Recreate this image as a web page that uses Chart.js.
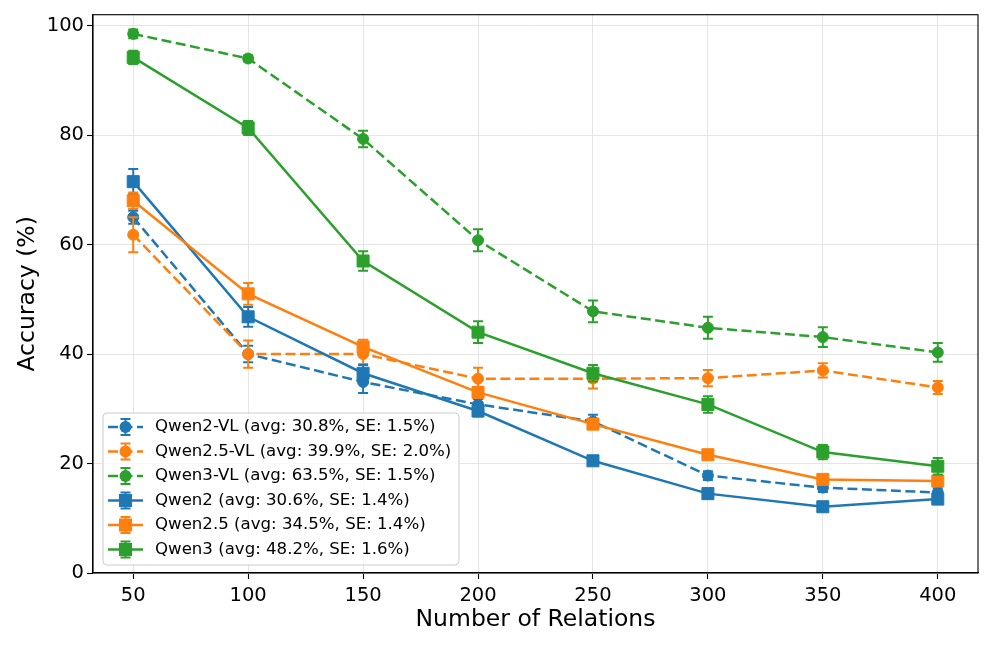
<!DOCTYPE html>
<html><head><meta charset="utf-8">
<script src="https://cdn.jsdelivr.net/npm/chart.js@4.4.0/dist/chart.umd.min.js"></script>
<style>html,body{margin:0;padding:0;background:#fff}#wrap{width:996px;height:648px}</style>
</head><body><div id="wrap"><canvas id="c" width="996" height="648"></canvas></div>
<script>
// ---- data ----
const relations = [50, 100, 150, 200, 250, 300, 350, 400];
const qwen2vl     = [65.0, 40.0, 34.9, 30.8, 27.7, 17.8, 15.6, 14.7];
const qwen2vlErr  = [1.2, 1.5, 2.0, 1.0, 1.2, 0.8, 0.8, 0.8];
const qwen25vl    = [61.8, 40.0, 40.0, 35.5, 35.5, 35.6, 37.0, 33.9];
const qwen25vlErr = [3.2, 2.5, 1.8, 2.0, 1.8, 1.5, 1.3, 1.2];
const qwen3vl     = [98.5, 94.0, 79.3, 60.8, 47.8, 44.8, 43.1, 40.3];
const qwen3vlErr  = [0.8, 0.6, 1.5, 2.0, 2.0, 2.0, 1.8, 1.7];
const qwen2       = [71.5, 46.8, 36.5, 29.6, 20.5, 14.5, 12.1, 13.5];
const qwen2Err    = [2.3, 1.8, 1.5, 1.0, 0.7, 0.6, 0.6, 0.8];
const qwen25      = [68.0, 51.0, 41.3, 33.0, 27.2, 21.6, 17.1, 16.8];
const qwen25Err   = [1.5, 2.0, 1.3, 1.0, 0.8, 0.7, 0.8, 0.8];
const qwen3       = [94.2, 81.3, 57.0, 44.0, 36.5, 30.8, 22.1, 19.5];
const qwen3Err    = [1.2, 1.3, 1.8, 2.0, 1.5, 1.5, 1.3, 1.5];
const seriesLabels = [
  'Qwen2-VL (avg: 30.8%, SE: 1.5%)',
  'Qwen2.5-VL (avg: 39.9%, SE: 2.0%)',
  'Qwen3-VL (avg: 63.5%, SE: 1.5%)',
  'Qwen2 (avg: 30.6%, SE: 1.4%)',
  'Qwen2.5 (avg: 34.5%, SE: 1.4%)',
  'Qwen3 (avg: 48.2%, SE: 1.6%)'
];
const xTicks = [50, 100, 150, 200, 250, 300, 350, 400];
const yTicks = [0, 20, 40, 60, 80, 100];

// ---- styles ----
const BLUE = '#1f77b4', ORANGE = '#ff7f0e', GREEN = '#2ca02c';
const seriesValues = [qwen2vl, qwen25vl, qwen3vl, qwen2, qwen25, qwen3];
const seriesErrors = [qwen2vlErr, qwen25vlErr, qwen3vlErr, qwen2Err, qwen25Err, qwen3Err];
const seriesColors = [BLUE, ORANGE, GREEN, BLUE, ORANGE, GREEN];
const seriesDashed = [true, true, true, false, false, false];
const DASH = [10, 4.5];
const FONT = 'DejaVu Sans';

const datasets = seriesValues.map((vals, i) => ({
  label: seriesLabels[i],
  data: relations.map((x, j) => ({x: x, y: vals[j]})),
  errors: seriesErrors[i],
  borderColor: seriesColors[i],
  backgroundColor: seriesColors[i],
  borderWidth: 2.5,
  borderDash: seriesDashed[i] ? DASH : [],
  pointStyle: seriesDashed[i] ? 'circle' : 'rect',
  pointRadius: seriesDashed[i] ? 5.5 : 8.5,
  pointBorderWidth: 1,
  pointBorderColor: seriesColors[i],
  pointBackgroundColor: seriesColors[i],
  pointHoverRadius: seriesDashed[i] ? 5.5 : 8.5,
  tension: 0,
  fill: false,
  order: 5 - i
}));

const errorBarPlugin = {
  id: 'errbars',
  beforeDatasetDraw(chart, args) {
    const ds = chart.data.datasets[args.index];
    if (!ds.errors) return;
    const xs = chart.scales.x, ys = chart.scales.y, ctx = chart.ctx;
    ctx.save();
    ctx.strokeStyle = ds.borderColor;
    ctx.lineWidth = 2;
    ctx.setLineDash([]);
    ds.data.forEach((p, i) => {
      const x = xs.getPixelForValue(p.x);
      const y1 = ys.getPixelForValue(p.y - ds.errors[i]);
      const y2 = ys.getPixelForValue(p.y + ds.errors[i]);
      ctx.beginPath();
      ctx.moveTo(x, y1); ctx.lineTo(x, y2);
      ctx.moveTo(x - 5, y1); ctx.lineTo(x + 5, y1);
      ctx.moveTo(x - 5, y2); ctx.lineTo(x + 5, y2);
      ctx.stroke();
    });
    ctx.restore();
  }
};

const framePlugin = {
  id: 'frame',
  afterDatasetsDraw(chart) {
    const a = chart.chartArea, ctx = chart.ctx;
    ctx.save();
    ctx.strokeStyle = '#000'; ctx.lineWidth = 1.1; ctx.setLineDash([]);
    ctx.strokeRect(a.left, a.top, a.right - a.left, a.bottom - a.top);
    ctx.restore();
  }
};

function roundRect(ctx, x, y, w, h, r) {
  ctx.beginPath();
  ctx.moveTo(x + r, y);
  ctx.lineTo(x + w - r, y); ctx.quadraticCurveTo(x + w, y, x + w, y + r);
  ctx.lineTo(x + w, y + h - r); ctx.quadraticCurveTo(x + w, y + h, x + w - r, y + h);
  ctx.lineTo(x + r, y + h); ctx.quadraticCurveTo(x, y + h, x, y + h - r);
  ctx.lineTo(x, y + r); ctx.quadraticCurveTo(x, y, x + r, y);
  ctx.closePath();
}

const legendPlugin = {
  id: 'mplLegend',
  afterDraw(chart) {
    const ctx = chart.ctx, a = chart.chartArea;
    const bx = a.left + 10, bw = 356, rowH = 24.5;
    const n = chart.data.datasets.length;
    const bh = n * rowH + 5;
    const by = a.bottom - 8 - bh;
    ctx.save();
    roundRect(ctx, bx, by, bw, bh, 4);
    ctx.fillStyle = 'rgba(255,255,255,0.8)'; ctx.fill();
    ctx.strokeStyle = '#cccccc'; ctx.lineWidth = 1; ctx.stroke();
    chart.data.datasets.forEach((ds, i) => {
      const cy = by + 14 + i * rowH;
      const x0 = bx + 5, x1 = bx + 40, xm = (x0 + x1) / 2;
      ctx.strokeStyle = ds.borderColor;
      ctx.lineWidth = 2.5;
      ctx.setLineDash(ds.borderDash);
      ctx.beginPath(); ctx.moveTo(x0, cy); ctx.lineTo(x1, cy); ctx.stroke();
      ctx.setLineDash([]);
      ctx.lineWidth = 2;
      ctx.beginPath();
      ctx.moveTo(xm, cy - 8); ctx.lineTo(xm, cy + 8);
      ctx.moveTo(xm - 5, cy - 8); ctx.lineTo(xm + 5, cy - 8);
      ctx.moveTo(xm - 5, cy + 8); ctx.lineTo(xm + 5, cy + 8);
      ctx.stroke();
      ctx.fillStyle = ds.borderColor;
      if (ds.pointStyle === 'circle') {
        ctx.beginPath(); ctx.arc(xm, cy, 6, 0, Math.PI * 2); ctx.fill();
      } else {
        ctx.fillRect(xm - 6.5, cy - 6.5, 13, 13);
      }
      ctx.fillStyle = '#000';
      ctx.font = '16.6px "' + FONT + '"';
      ctx.textBaseline = 'middle';
      ctx.textAlign = 'left';
      ctx.fillText(ds.label, bx + 52, cy);
    });
    ctx.restore();
  }
};

new Chart(document.getElementById('c'), {
  type: 'line',
  data: { datasets: datasets },
  plugins: [errorBarPlugin, framePlugin, legendPlugin],
  options: {
    responsive: false,
    animation: false,
    devicePixelRatio: 1,
    layout: { padding: { top: 14, right: 18, left: 0, bottom: 0 } },
    plugins: { legend: { display: false }, tooltip: { enabled: false } },
    scales: {
      x: {
        type: 'linear',
        min: 32.5, max: 417.5,
        afterFit: s => { s.height = 75; },
        afterBuildTicks: s => { s.ticks = xTicks.map(v => ({value: v})); },
        ticks: { color: '#000', font: { family: FONT, size: 19.5 }, padding: 5, maxRotation: 0, autoSkip: false },
        grid: { color: '#e5e5e5', lineWidth: 1, tickLength: 6, tickColor: '#000', tickWidth: 1.1 },
        border: { display: true, color: '#000', width: 1.1 },
        title: { display: true, text: 'Number of Relations', color: '#000',
                 font: { family: FONT, size: 23.5, lineHeight: 1.2 }, padding: { top: 0, bottom: 14 } }
      },
      y: {
        type: 'linear',
        min: 0, max: 102,
        afterFit: s => { s.width = 93; },
        afterBuildTicks: s => { s.ticks = yTicks.map(v => ({value: v})); },
        ticks: { color: '#000', font: { family: FONT, size: 19.5 }, padding: 3 },
        grid: { color: '#e5e5e5', lineWidth: 1, tickLength: 6, tickColor: '#000', tickWidth: 1.1 },
        border: { display: true, color: '#000', width: 1.1 },
        title: { display: true, text: 'Accuracy (%)', color: '#000',
                 font: { family: FONT, size: 23.5, lineHeight: 1.2 }, padding: { top: 14, bottom: 0 } }
      }
    }
  }
});
</script></body></html>
